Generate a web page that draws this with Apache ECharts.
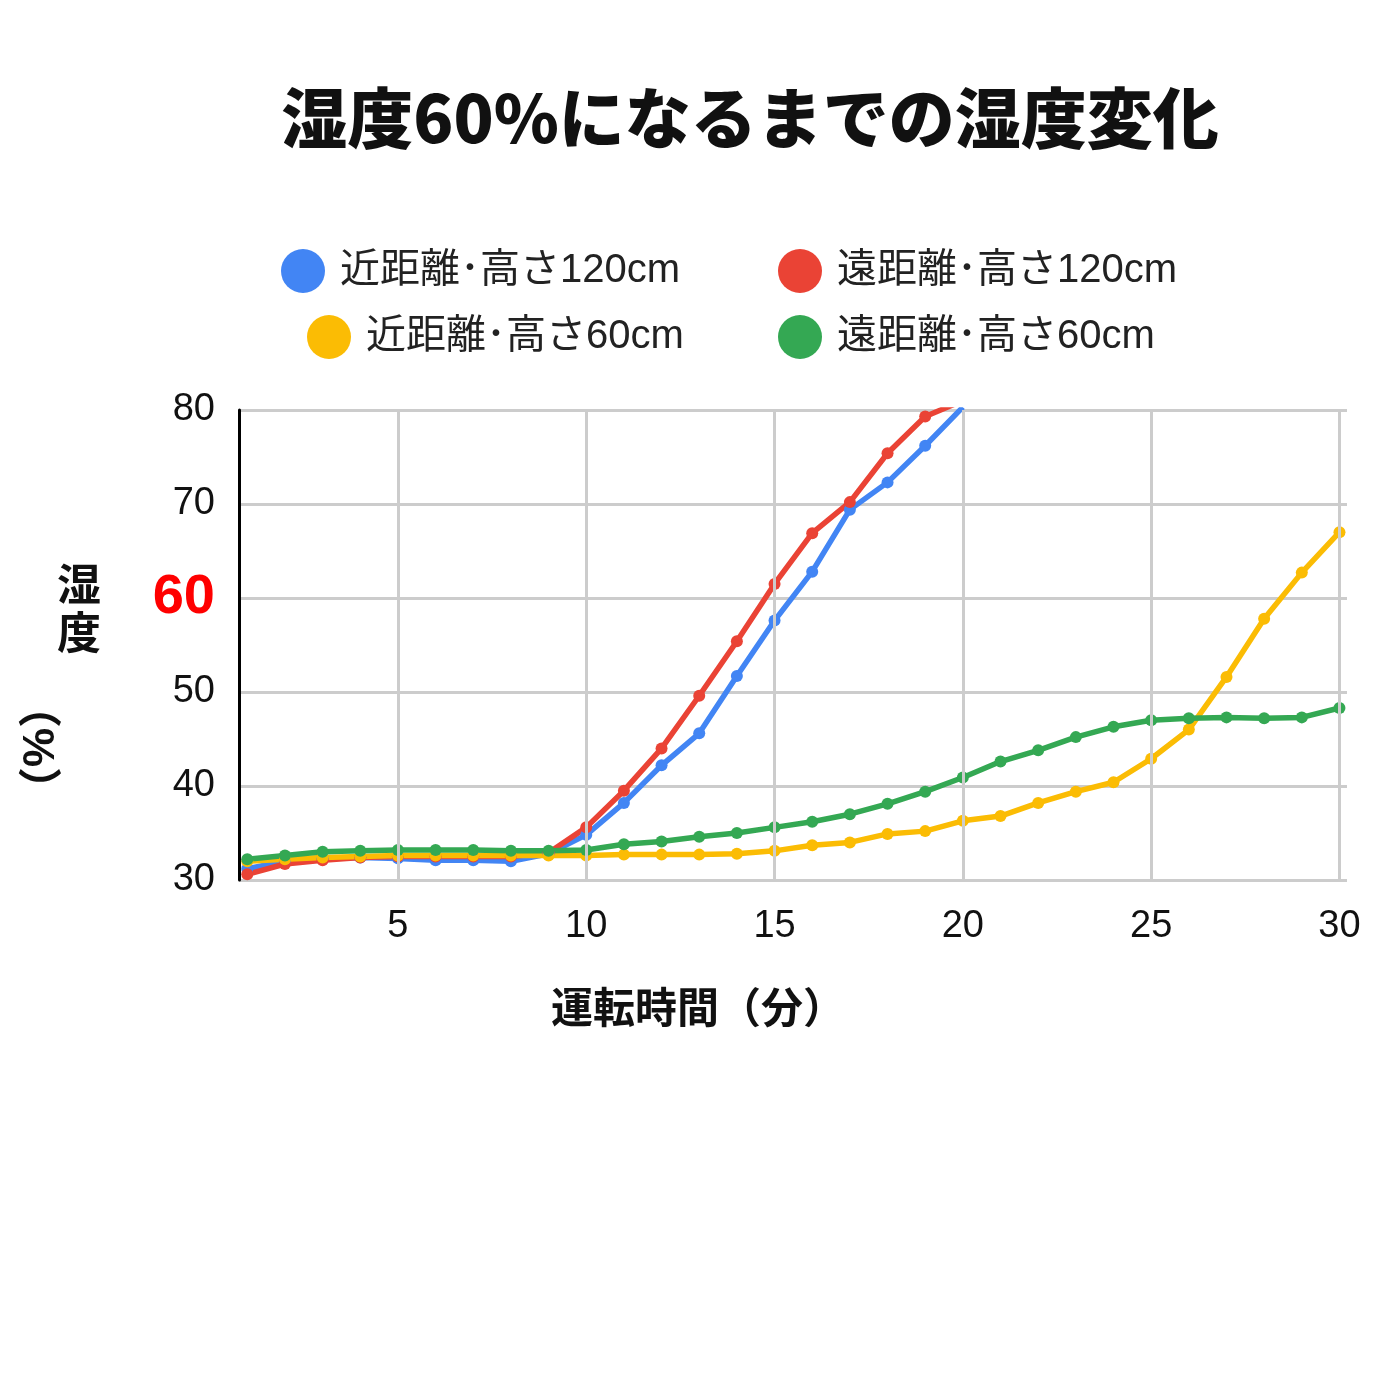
<!DOCTYPE html>
<html><head><meta charset="utf-8">
<script src="https://cdn.jsdelivr.net/npm/echarts@6/dist/echarts.min.js"></script>
<style>html,body{margin:0;background:#fff}#main{width:1400px;height:1400px}</style>
</head><body><div id="main"></div>
<script>
var minutes = [];
for (var i = 1; i <= 30; i++) minutes.push(i);
var xTicks = [5, 10, 15, 20, 25, 30];
var near120 = [31.2,32,32.3,32.4,32.3,32.1,32.1,32.0,32.8,34.8,38.2,42.2,45.6,51.7,57.6,62.8,69.4,72.3,76.2,80.3];
var far120 = [30.6,31.7,32.1,32.4,32.5,32.5,32.5,32.5,32.9,35.6,39.5,44,49.6,55.4,61.5,66.9,70.2,75.4,79.3,81];
var near60 = [32,32.2,32.4,32.5,32.6,32.6,32.6,32.6,32.6,32.6,32.7,32.7,32.7,32.8,33.1,33.7,34,34.9,35.2,36.3,36.8,38.2,39.4,40.4,42.9,46,51.6,57.8,62.7,67];
var far60 = [32.2,32.6,33.0,33.1,33.2,33.2,33.2,33.1,33.1,33.2,33.8,34.1,34.6,35,35.6,36.2,37,38.1,39.4,40.9,42.6,43.8,45.2,46.3,47,47.2,47.3,47.2,47.3,48.3];
var names = ['近距離･高さ120cm','遠距離･高さ120cm','近距離･高さ60cm','遠距離･高さ60cm'];
var colors = ['#4285f4','#ea4335','#fbbc04','#34a853'];

function pairs(arr) { return arr.map(function (v, i) { return [minutes[i], v]; }); }

var chart = echarts.init(document.getElementById('main'));
var font = '"Liberation Sans", "Noto Sans CJK JP", sans-serif';
function lg(name, left, top) {
    return { data: [name], left: left, top: top, icon: 'circle', itemWidth: 44, itemHeight: 44, itemGap: 0,
        textStyle: { fontSize: 40, color: '#222', fontFamily: font, padding: [0, 0, 0, 10] } };
}
var series = [near120, far120, near60, far60].map(function (d, k) {
    return { name: names[k], type: 'line', data: pairs(d), color: colors[k], symbol: 'circle', symbolSize: 12,
        lineStyle: { width: 5.5 }, z: 2, clip: true };
});
var grid = { type: 'line', data: [], z: 1, markLine: { silent: true, symbol: 'none', label: { show: false },
    lineStyle: { color: '#cccccc', width: 3, type: 'solid' },
    data: xTicks.map(function (v) { return { xAxis: v }; }) } };
chart.setOption({
    animation: false,
    textStyle: { fontFamily: font },
    title: { text: '湿度60%になるまでの湿度変化', left: 745, top: 80, textAlign: 'center',
        textStyle: { fontSize: 66, fontWeight: 900, color: '#111', fontFamily: '"Noto Sans CJK JP", sans-serif' } },
    legend: [lg(names[0], 276, 244), lg(names[1], 773, 244), lg(names[2], 302, 310), lg(names[3], 773, 310)],
    grid: { left: 239, right: 53, top: 410, bottom: 520, containLabel: false },
    xAxis: { type: 'value', min: 0.78, max: 30.2, axisLine: { show: false }, axisTick: { show: false },
        splitLine: { show: false },
        axisLabel: { customValues: xTicks, fontSize: 38, color: '#111', margin: 28 },
        name: '運転時間（分）', nameLocation: 'middle', nameGap: 110,
        nameTextStyle: { fontSize: 42, fontWeight: 'bold', color: '#111', padding: [0, 190, 0, 0] } },
    yAxis: { type: 'value', min: 30, max: 80, interval: 10,
        axisLine: { show: true, lineStyle: { color: '#000', width: 3 } }, axisTick: { show: false },
        splitLine: { lineStyle: { color: '#cccccc', width: 3 } },
        axisLabel: { fontSize: 38, color: '#111', margin: 24,
            formatter: function (v) { return v === 60 ? '{r|60}' : '' + v; },
            rich: { r: { fontSize: 56, fontWeight: 'bold', color: '#ff0000' } } } },
    graphic: [
        { type: 'text', left: 57, top: 565, style: { text: '湿\n度', fontSize: 44, fontWeight: 'bold', fill: '#111', lineHeight: 48, fontFamily: font } },
        { type: 'text', x: 57, y: 684, rotation: -Math.PI / 2, style: { text: '（%）', fontSize: 44, fontWeight: 'bold', fill: '#111', fontFamily: font } }
    ],
    series: [grid].concat(series)
});
window.addEventListener('resize', function () { chart.resize(); });
</script></body></html>
